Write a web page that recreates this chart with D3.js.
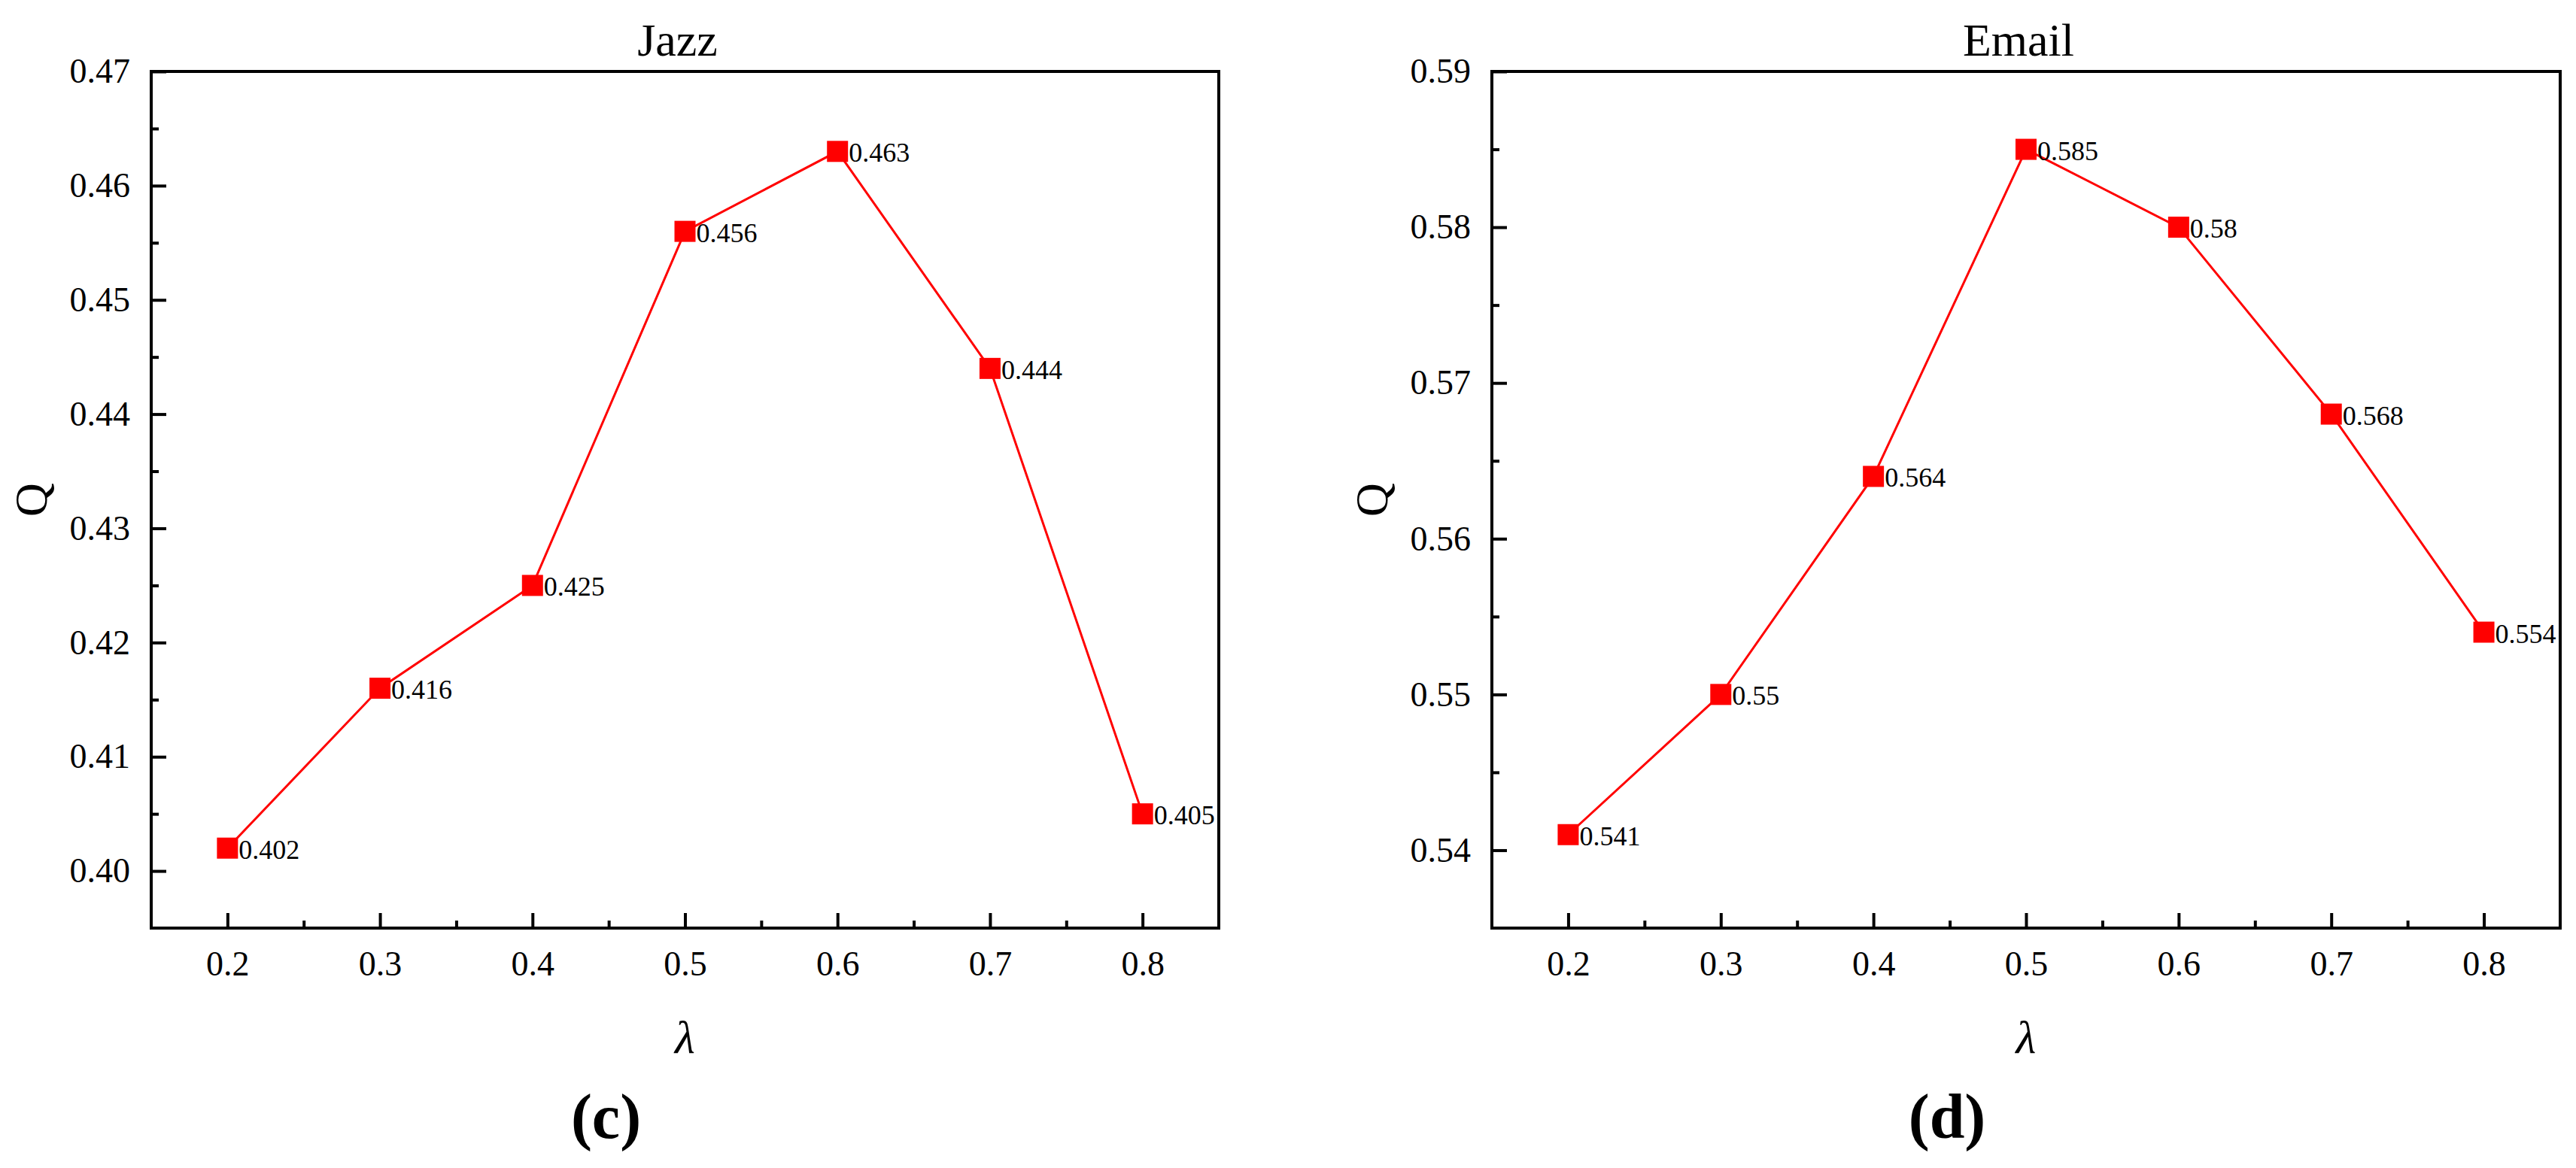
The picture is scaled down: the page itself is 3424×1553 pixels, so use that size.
<!DOCTYPE html>
<html>
<head>
<meta charset="utf-8">
<script src="https://cdn.jsdelivr.net/npm/d3@7"></script>
<style>
  body { margin: 0; background: #fff; }
  text { font-family: "Liberation Serif", "Times New Roman", serif; fill: #000; }
</style>
</head>
<body>
<div id="chart"></div>
<script>
// data
var lambdas = [0.2, 0.3, 0.4, 0.5, 0.6, 0.7, 0.8];
var jazzQ = [0.402, 0.416, 0.425, 0.456, 0.463, 0.444, 0.405];
var emailQ = [0.541, 0.55, 0.564, 0.585, 0.58, 0.568, 0.554];

var xTicks = [0.2, 0.3, 0.4, 0.5, 0.6, 0.7, 0.8];
var xMinor = [0.25, 0.35, 0.45, 0.55, 0.65, 0.75];
var jazzTicks = [0.40, 0.41, 0.42, 0.43, 0.44, 0.45, 0.46, 0.47];
var jazzMinor = [0.405, 0.415, 0.425, 0.435, 0.445, 0.455, 0.465];
var emailTicks = [0.54, 0.55, 0.56, 0.57, 0.58, 0.59];
var emailMinor = [0.545, 0.555, 0.565, 0.575, 0.585];

var width = 3424;
var height = 1553;

var svg = d3.select('#chart')
          .append('svg')
          .attr('width', width)
          .attr('height', height);

function drawPanel(opt) {
  var left = opt.left, right = opt.right, top = 95, bottom = 1234;
  var cx = (left + right) / 2;

  var x = d3.scaleLinear().domain([0.15, 0.85]).range([left, right]);
  var y = d3.scaleLinear().domain(opt.yDomain).range([bottom, top]);

  var g = svg.append('g');

  // x axis, ticks pointing inward
  var xAxis = g.append('g')
     .attr('transform', 'translate(0,' + bottom + ')')
     .call(d3.axisBottom(x).tickValues(xTicks).tickSize(-20).tickPadding(30)
           .tickFormat(d3.format('.1f')));
  g.append('g')
     .attr('transform', 'translate(0,' + bottom + ')')
     .call(d3.axisBottom(x).tickValues(xMinor).tickSize(-10).tickFormat(''))
     .select('.domain').remove();

  // y axis
  var yAxis = g.append('g')
     .attr('transform', 'translate(' + left + ',0)')
     .call(d3.axisLeft(y).tickValues(opt.yTicks).tickSize(-20).tickPadding(28)
           .tickFormat(d3.format('.2f')));
  g.append('g')
     .attr('transform', 'translate(' + left + ',0)')
     .call(d3.axisLeft(y).tickValues(opt.yMinor).tickSize(-10).tickFormat(''))
     .select('.domain').remove();

  g.selectAll('.domain').remove();
  g.selectAll('.tick line').attr('stroke', '#000').attr('stroke-width', 4);
  g.selectAll('.tick text').attr('font-size', 46).attr('font-family', '"Liberation Serif", serif').attr('fill', '#000');
  xAxis.selectAll('.tick text').attr('dy', '0.71em');

  // frame
  g.append('rect')
   .attr('x', left).attr('y', top)
   .attr('width', right - left).attr('height', bottom - top)
   .attr('fill', 'none').attr('stroke', '#000').attr('stroke-width', 4);

  var pts = lambdas.map(function(d, i) { return {l: d, q: opt.values[i]}; });

  var line = d3.line()
             .x(function(d) { return x(d.l); })
             .y(function(d) { return y(d.q); });

  g.append('path')
   .datum(pts)
   .attr('d', line)
   .attr('fill', 'none')
   .attr('stroke', '#ff0000')
   .attr('stroke-width', 3);

  g.selectAll('.marker')
   .data(pts)
   .enter()
   .append('rect')
   .attr('class', 'marker')
   .attr('x', function(d) { return x(d.l) - 14; })
   .attr('y', function(d) { return y(d.q) - 14; })
   .attr('width', 28)
   .attr('height', 28)
   .attr('fill', '#ff0000');

  g.selectAll('.vlabel')
   .data(pts)
   .enter()
   .append('text')
   .attr('class', 'vlabel')
   .attr('x', function(d) { return x(d.l) + 15; })
   .attr('y', function(d) { return y(d.q) + 14; })
   .attr('font-size', 36)
   .text(function(d) { return String(d.q); });

  // titles and labels
  g.append('text')
   .attr('x', cx - 10).attr('y', 74)
   .attr('text-anchor', 'middle')
   .attr('font-size', 62)
   .text(opt.title);

  g.append('text')
   .attr('transform', 'translate(' + (left - 139) + ',' + ((top + bottom) / 2) + ') rotate(-90)')
   .attr('text-anchor', 'middle')
   .attr('font-size', 62)
   .text('Q');

  g.append('text')
   .attr('x', cx).attr('y', 1400)
   .attr('text-anchor', 'middle')
   .attr('font-size', 62)
   .attr('font-style', 'italic')
   .text('λ');

  g.append('text')
   .attr('x', cx - 105).attr('y', 1513)
   .attr('text-anchor', 'middle')
   .attr('font-size', 84)
   .attr('font-weight', 'bold')
   .text(opt.tag);
}

drawPanel({left: 201, right: 1620, yDomain: [0.395, 0.47], yTicks: jazzTicks, yMinor: jazzMinor,
           values: jazzQ, title: 'Jazz', tag: '(c)'});
drawPanel({left: 1983, right: 3403, yDomain: [0.535, 0.59], yTicks: emailTicks, yMinor: emailMinor,
           values: emailQ, title: 'Email', tag: '(d)'});
</script>
</body>
</html>
